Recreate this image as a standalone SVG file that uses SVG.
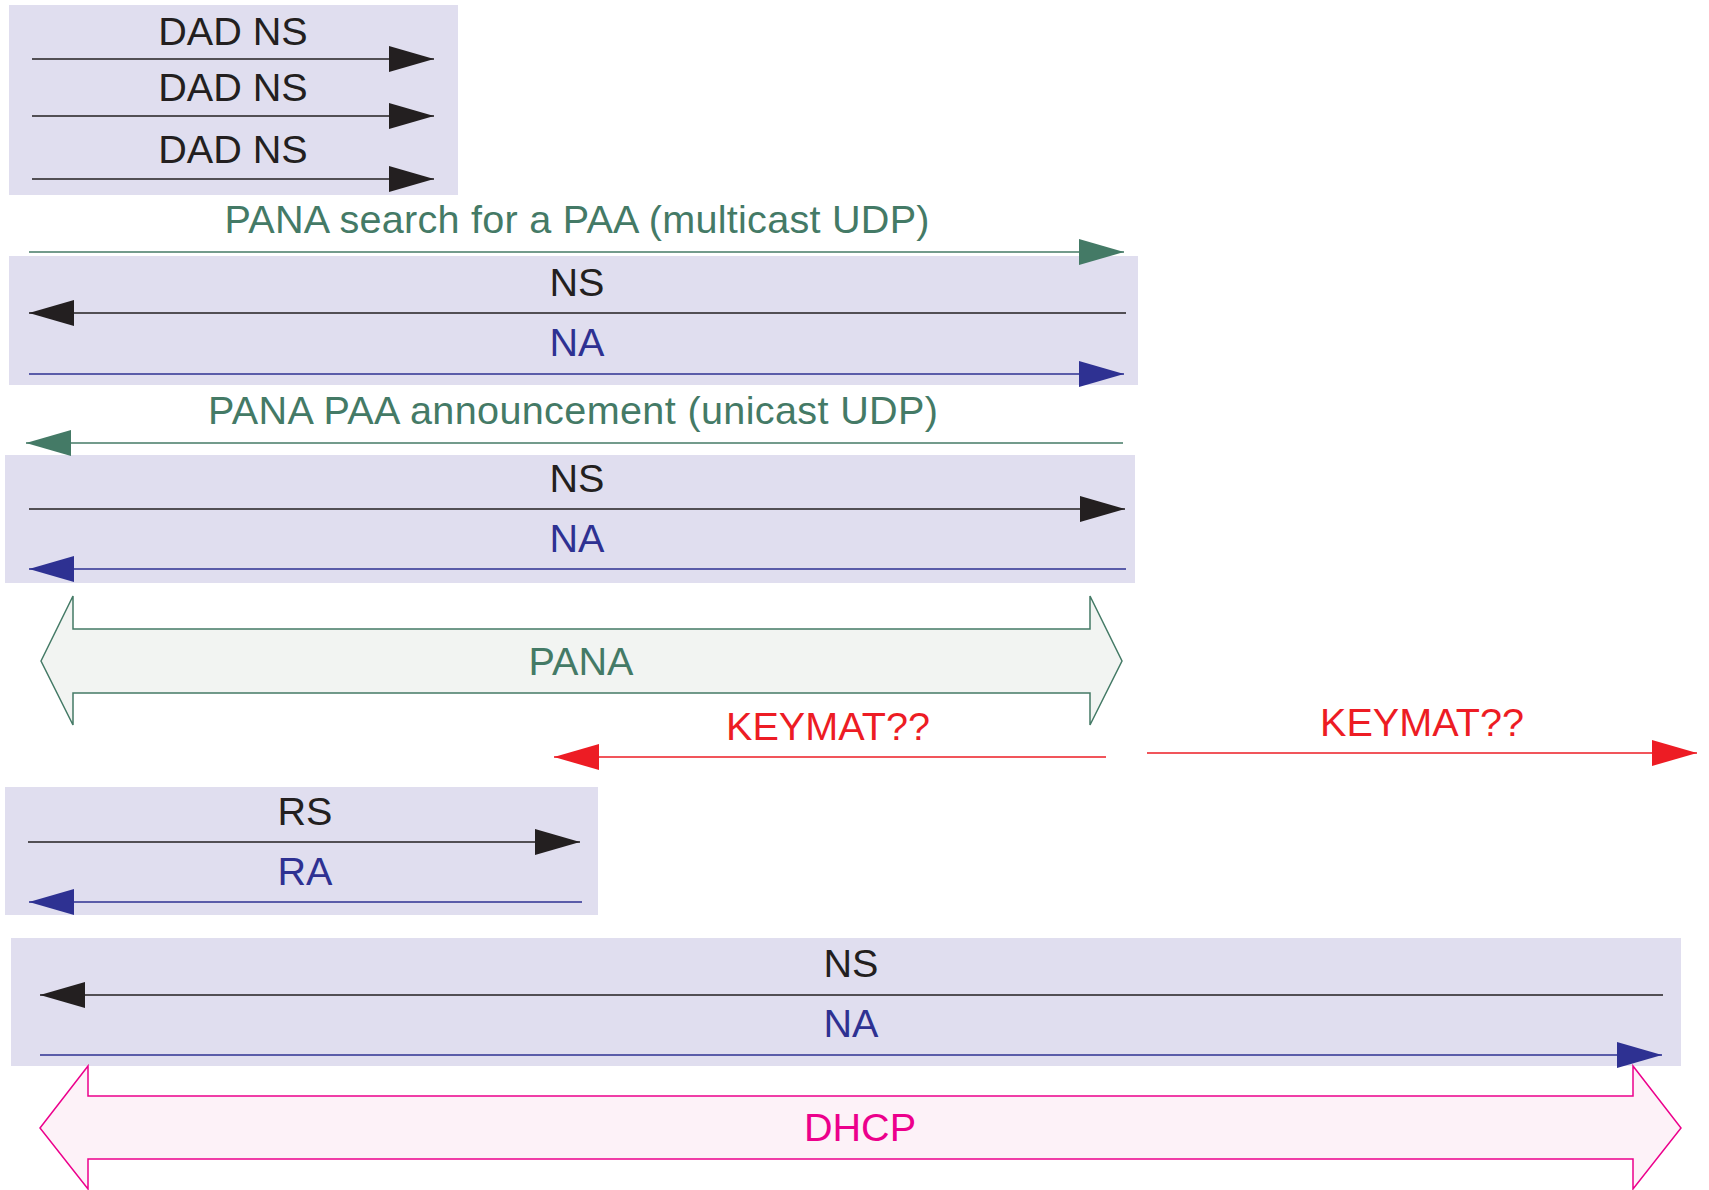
<svg xmlns="http://www.w3.org/2000/svg" width="1709" height="1190" viewBox="0 0 1709 1190">
<style>
text{font-family:"Liberation Sans",Arial,sans-serif;font-size:39.6px;text-anchor:middle}
.box{fill:#e0deef}
.k{fill:#231f20}.b{fill:#2e3192}.g{fill:#447a66}.r{fill:#ed1c24}.m{fill:#ec008c}
.lk{stroke:#231f20;stroke-width:1.5;fill:none}
.lb{stroke:#2e3192;stroke-width:1.5;fill:none}
.lg{stroke:#447a66;stroke-width:1.5;fill:none}
.lr{stroke:#ed1c24;stroke-width:1.5;fill:none}
</style>
<defs>
<marker id="ak" markerUnits="userSpaceOnUse" markerWidth="46" markerHeight="28" refX="45" refY="13" orient="auto-start-reverse"><path d="M0,0L45,13L0,26z" fill="#231f20"/></marker>
<marker id="ab" markerUnits="userSpaceOnUse" markerWidth="46" markerHeight="28" refX="45" refY="13" orient="auto-start-reverse"><path d="M0,0L45,13L0,26z" fill="#2e3192"/></marker>
<marker id="ag" markerUnits="userSpaceOnUse" markerWidth="46" markerHeight="28" refX="45" refY="13" orient="auto-start-reverse"><path d="M0,0L45,13L0,26z" fill="#447a66"/></marker>
<marker id="ar" markerUnits="userSpaceOnUse" markerWidth="46" markerHeight="28" refX="45" refY="13" orient="auto-start-reverse"><path d="M0,0L45,13L0,26z" fill="#ed1c24"/></marker>
</defs>

<g id="box-dad"><rect class="box" x="9" y="5" width="449" height="190"/></g>
<g id="box-ns1"><rect class="box" x="9" y="256" width="1129" height="129"/></g>
<g id="box-ns2"><rect class="box" x="5" y="455" width="1130" height="128"/></g>
<g id="box-rs"><rect class="box" x="5" y="787" width="593" height="128"/></g>
<g id="box-ns3"><rect class="box" x="11" y="938" width="1670" height="128"/></g>

<g id="pana">
<path d="M41,661L73,596L73,629L1090,629L1090,596L1122,661L1090,725L1090,693L73,693L73,725Z" fill="#f2f4f2" stroke="#447a66" stroke-width="1.5"/>
<text class="g" x="581" y="675">PANA</text>
</g>
<g id="dhcp">
<path d="M40,1128L88,1066L88,1096L1633,1096L1633,1066L1681,1128L1633,1189L1633,1159L88,1159L88,1189Z" fill="#fdf2f8" stroke="#ec008c" stroke-width="1.5"/>
<text class="m" x="860" y="1141">DHCP</text>
</g>

<g id="connectors">
<line class="lk" x1="32" y1="59" x2="434" y2="59" marker-end="url(#ak)"/>
<line class="lk" x1="32" y1="116" x2="434" y2="116" marker-end="url(#ak)"/>
<line class="lk" x1="32" y1="179" x2="434" y2="179" marker-end="url(#ak)"/>
<line class="lg" x1="29" y1="252" x2="1124" y2="252" marker-end="url(#ag)"/>
<line class="lk" x1="29" y1="313" x2="1126" y2="313" marker-start="url(#ak)"/>
<line class="lb" x1="29" y1="374" x2="1124" y2="374" marker-end="url(#ab)"/>
<line class="lg" x1="26" y1="443" x2="1123" y2="443" marker-start="url(#ag)"/>
<line class="lk" x1="29" y1="509" x2="1125" y2="509" marker-end="url(#ak)"/>
<line class="lb" x1="29" y1="569" x2="1126" y2="569" marker-start="url(#ab)"/>
<line class="lr" x1="554" y1="757" x2="1106" y2="757" marker-start="url(#ar)"/>
<line class="lr" x1="1147" y1="753" x2="1697" y2="753" marker-end="url(#ar)"/>
<line class="lk" x1="28" y1="842" x2="580" y2="842" marker-end="url(#ak)"/>
<line class="lb" x1="29" y1="902" x2="582" y2="902" marker-start="url(#ab)"/>
<line class="lk" x1="40" y1="995" x2="1663" y2="995" marker-start="url(#ak)"/>
<line class="lb" x1="40" y1="1055" x2="1662" y2="1055" marker-end="url(#ab)"/>
</g>

<g id="labels">
<text class="k" x="233" y="45">DAD NS</text>
<text class="k" x="233" y="101">DAD NS</text>
<text class="k" x="233" y="163">DAD NS</text>
<text class="g" x="577" y="233" textLength="705" lengthAdjust="spacing">PANA search for a PAA (multicast UDP)</text>
<text class="k" x="577" y="296">NS</text>
<text class="b" x="577" y="356">NA</text>
<text class="g" x="573" y="424" textLength="730" lengthAdjust="spacing">PANA PAA announcement (unicast UDP)</text>
<text class="k" x="577" y="492">NS</text>
<text class="b" x="577" y="552">NA</text>
<text class="r" x="828" y="740">KEYMAT??</text>
<text class="r" x="1422" y="736">KEYMAT??</text>
<text class="k" x="305" y="825">RS</text>
<text class="b" x="305" y="885">RA</text>
<text class="k" x="851" y="977">NS</text>
<text class="b" x="851" y="1037">NA</text>
</g>
</svg>
